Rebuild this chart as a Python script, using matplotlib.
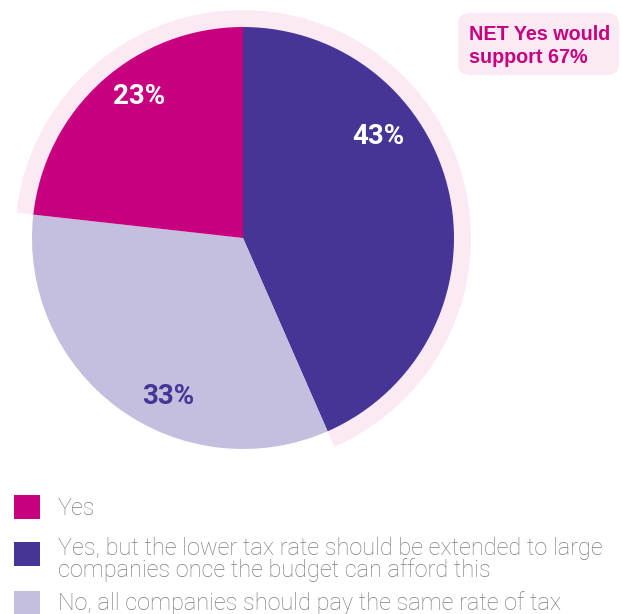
import matplotlib
matplotlib.use("Agg")
import matplotlib.pyplot as plt
from matplotlib.patches import Rectangle, FancyBboxPatch

# data
labels = ["Yes",
          "Yes, but the lower tax rate should be extended to large\ncompanies once the budget can afford this",
          "No, all companies should pay the same rate of tax"]
values = [23, 43, 33]          # Yes, Yes-but, No
net_label = "NET Yes would\nsupport 67%"

MAGENTA = "#c8007f"
PURPLE = "#463596"
LAVENDER = "#c4bedf"
RING = "#fbeaf4"
GREY = "#7d7d7d"
colors = [MAGENTA, PURPLE, LAVENDER]

W, H = 622, 614
NARROW = ["Liberation Sans Narrow", "Roboto", "DejaVu Sans"]
SANS = ["Roboto", "Liberation Sans", "DejaVu Sans"]
BOLD = ["Liberation Sans", "Roboto", "DejaVu Sans"]


def py(y):
    # pixel row (from top) -> data y
    return H - y


fig = plt.figure(figsize=(W / 100, H / 100), dpi=100)
ax = fig.add_axes([0, 0, 1, 1])

center = (243, py(238))
total = sum(values)

# pie drawn clockwise from 12 o'clock: Yes-but, No, Yes
order = [1, 2, 0]
pie_vals = [values[i] for i in order]
pie_cols = [colors[i] for i in order]

# pale ring around the NET Yes part (Yes + Yes-but)
net_yes = values[0] + values[1]
ring_start = 90 + 360 * values[0] / total
ax.pie([net_yes, values[2]], colors=[RING, "none"], startangle=ring_start,
       counterclock=False, radius=228, center=center,
       wedgeprops=dict(width=17, linewidth=0))

ax.pie(pie_vals, colors=pie_cols, startangle=90, counterclock=False,
       radius=211, center=center, wedgeprops=dict(linewidth=0))

ax.set_xlim(0, W)
ax.set_ylim(0, H)
ax.set_aspect("equal")
ax.axis("off")

# slice labels
lab_pos = {0: (139, 96), 1: (378, 137), 2: (168, 397)}
lab_col = {0: "white", 1: "white", 2: PURPLE}
for i, v in enumerate(values):
    x, y = lab_pos[i]
    ax.text(x, py(y), f"{v}%", ha="center", va="center", fontsize=20,
            fontweight="bold", color=lab_col[i], family=NARROW)

# NET callout
box = FancyBboxPatch((468, py(65)), 141, 42,
                     boxstyle="round,pad=10,rounding_size=12",
                     facecolor=RING, edgecolor="none")
ax.add_patch(box)
for k, line in enumerate(net_label.split("\n")):
    ax.text(469, py(40 + 23 * k), line, ha="left", va="baseline",
            fontsize=14.2, fontweight="bold", color=MAGENTA, family=BOLD)

# legend
sq_tops = [495, 542, 591]
base_first = [515, 555, 610]
for i, lab in enumerate(labels):
    ax.add_patch(Rectangle((14, py(sq_tops[i] + 24)), 26, 24,
                           facecolor=colors[i], edgecolor="none"))
    for k, line in enumerate(lab.split("\n")):
        ax.text(58, py(base_first[i] + 22 * k), line, ha="left",
                va="baseline", fontsize=16.9, fontweight="light",
                color=GREY, family=SANS)

fig.savefig("out.png", dpi=100)
